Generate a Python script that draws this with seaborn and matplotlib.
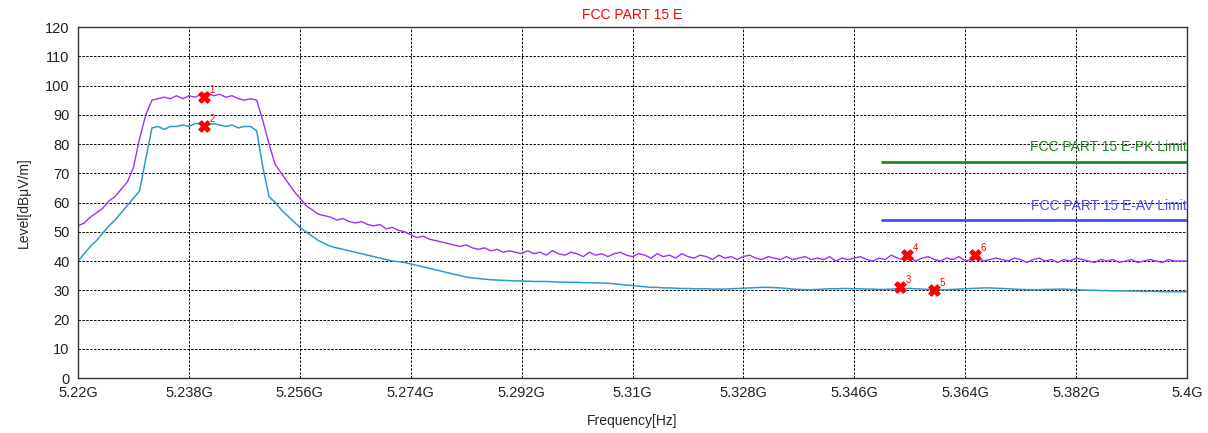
import numpy as np
import pandas as pd
import seaborn as sns
import matplotlib.pyplot as plt

# sweep grid: 5.220 .. 5.400 GHz in 1 MHz steps (181 points)
freq_ghz = np.linspace(5.220, 5.400, 181)

peak_level = [
    52, 53, 55, 56.5, 58, 60.5, 62, 64.5, 67, 72,
    82, 90, 95, 95.5, 96, 95.5, 96.5, 95.5, 96.5, 96,
    97, 97.5, 96.5, 97, 96, 96.5, 95.5, 95, 95.5, 95,
    88, 80, 73, 70, 67, 64, 61.5, 59, 57.5, 56,
    55.5, 55, 54, 54.5, 53.5, 53, 53.5, 52.5, 52, 52.5,
    51, 51.5, 50.5, 50, 49, 48, 48.5, 47.5, 47, 46.5,
    46, 45.5, 45, 45.5, 44.5, 44, 44.5, 43.5, 44, 43,
    43.5, 43, 42.5, 43.5, 42.5, 43, 42, 43.5, 42.5, 42,
    43, 42.5, 41.5, 43, 42, 42.5, 41.5, 42.5, 43, 42,
    41.5, 42.5, 42, 41, 42.5, 41.5, 42, 41, 42.5, 41.5,
    41, 42, 41.5, 40.5, 42, 41, 41.5, 40.5, 41.5, 42,
    41, 40.5, 41.5, 41, 40.5, 41.5, 40.5, 41, 41.5, 40.5,
    41, 40.5, 41.5, 40, 41, 40.5, 41, 41.5, 40.5, 40,
    41, 40.5, 42, 41, 40.5, 41, 40, 41, 41.5, 40.5,
    40, 41, 40.5, 41.5, 40, 40.5, 41, 40, 40.5, 41,
    40.5, 40, 41, 40.5, 39.5, 40.5, 41, 40, 40.5, 39.5,
    40.5, 40, 41, 40.5, 40, 39.5, 40.5, 40, 40.5, 39.5,
    40, 40.5, 39.5, 40, 40.5, 40, 39.5, 40.5, 40, 40,
    40,
]

avg_level = [
    40, 42.5, 45, 47, 49.5, 52, 54, 56.5, 59, 61.5,
    64, 75, 85.5, 86, 85, 86, 86, 86.5, 86, 87,
    87, 86.5, 87, 86.5, 86, 86.5, 85.5, 86, 86, 84.5,
    72, 62, 60, 57.5, 55.5, 53.5, 51.5, 50, 48.5, 47,
    46, 45, 44.5, 44, 43.5, 43, 42.5, 42, 41.5, 41,
    40.5, 40, 39.8, 39.5, 39, 38.5, 38, 37.5, 37, 36.5,
    36, 35.5, 35, 34.5, 34.2, 34, 33.8, 33.6, 33.5, 33.4,
    33.3, 33.2, 33.2, 33.1, 33, 33, 33, 32.9, 32.8, 32.8,
    32.7, 32.7, 32.6, 32.6, 32.5, 32.5, 32.4, 32.2, 32, 31.8,
    31.6, 31.4, 31.2, 31, 31, 30.8, 30.8, 30.7, 30.6, 30.6,
    30.5, 30.5, 30.5, 30.4, 30.4, 30.4, 30.5, 30.6, 30.7, 30.8,
    30.9, 31, 31, 30.9, 30.8, 30.6, 30.4, 30.3, 30.2, 30.2,
    30.3, 30.4, 30.5, 30.5, 30.6, 30.6, 30.5, 30.5, 30.4, 30.4,
    30.3, 30.3, 30.4, 30.5, 30.6, 30.6, 30.5, 30.4, 30.3, 30.2,
    30.2, 30.2, 30.3, 30.4, 30.5, 30.6, 30.7, 30.8, 30.8, 30.7,
    30.6, 30.5, 30.4, 30.3, 30.2, 30.2, 30.2, 30.3, 30.3, 30.4,
    30.4, 30.3, 30.2, 30.1, 30, 30, 29.9, 29.9, 29.8, 29.8,
    29.8, 29.7, 29.7, 29.6, 29.6, 29.6, 29.5, 29.5, 29.5, 29.5,
    29.5,
]

marker_ids = ["1", "2", "3", "4", "5", "6"]
marker_freq = [5.2404, 5.2404, 5.3534, 5.3546, 5.3589, 5.3656]
marker_level = [96, 86, 31, 42, 30, 42]

limit_names = ["FCC PART 15 E-PK Limit", "FCC PART 15 E-AV Limit"]
limit_level = [74, 54]
limit_start, limit_stop = 5.3505, 5.400

xtick_labels = ["5.22G", "5.238G", "5.256G", "5.274G", "5.292G", "5.31G",
                "5.328G", "5.346G", "5.364G", "5.382G", "5.4G"]
xtick_vals = [5.22, 5.238, 5.256, 5.274, 5.292, 5.31, 5.328, 5.346, 5.364, 5.382, 5.4]

sns.set_style("white")
plt.rcParams['font.family'] = ['Liberation Sans', 'DejaVu Sans']

traces = pd.DataFrame({"freq": freq_ghz, "peak": peak_level, "avg": avg_level})

fig = plt.figure(figsize=(12.08, 4.33), dpi=100)
ax = fig.add_axes([0.0646, 0.127, 0.918, 0.8106])

sns.lineplot(data=traces, x="freq", y="peak", color="#9b30ff", lw=1.0, ax=ax)
sns.lineplot(data=traces, x="freq", y="avg", color="#2a9bd0", lw=1.1, ax=ax)

limit_colors = ["#1f8a1f", "#4b4bff"]
for name, lvl, c in zip(limit_names, limit_level, limit_colors):
    ax.plot([limit_start, limit_stop], [lvl, lvl], color=c, lw=2)
    ax.text(limit_stop, lvl + 2.5, name, color=c, ha="right", va="bottom", fontsize=10)

sns.scatterplot(x=marker_freq, y=marker_level, marker="X", s=70, color="red",
                edgecolor="red", ax=ax, zorder=5)
for mid, f, lv in zip(marker_ids, marker_freq, marker_level):
    ax.annotate(mid, (f, lv), xytext=(4, 3), textcoords="offset points",
                color="red", fontsize=7)

ax.set_xlim(5.22, 5.4)
ax.set_ylim(0, 120)
ax.set_xticks(xtick_vals)
ax.set_xticklabels(xtick_labels)
ax.set_yticks(range(0, 121, 10))
ax.tick_params(axis="both", labelsize=10.5, colors="#222222", length=0, pad=6)
ax.grid(True, color="black", linestyle=(0, (2.5, 1.5)), lw=0.7)
for s in ax.spines.values():
    s.set_color("#333333")
    s.set_linewidth(1.0)

ax.set_xlabel("Frequency[Hz]", fontsize=10, labelpad=10)
ax.set_ylabel("Level[dBμV/m]", fontsize=10, labelpad=10)
ax.set_title("FCC PART 15 E", color="red", fontsize=10, pad=6)

fig.savefig("out.png", dpi=100)
